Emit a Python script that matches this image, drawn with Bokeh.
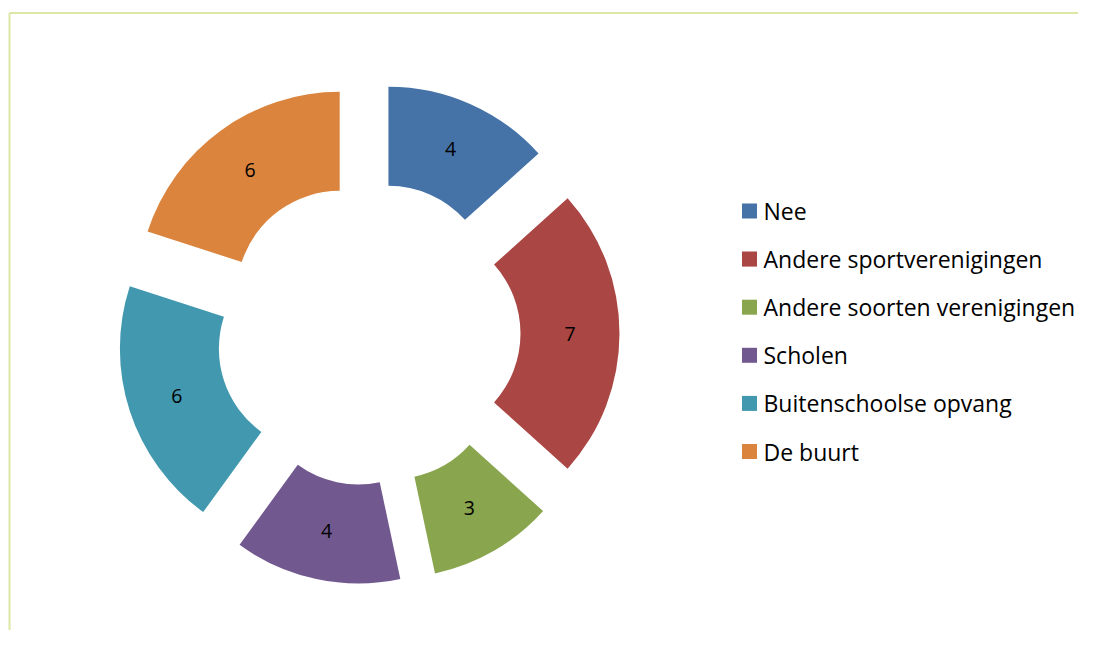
import numpy as np
from bokeh.plotting import figure
from bokeh.models import ColumnDataSource
from bokeh.core.properties import value
from bokeh.embed import file_html
from bokeh.resources import INLINE

categories = ["Nee", "Andere sportverenigingen", "Andere soorten verenigingen",
              "Scholen", "Buitenschoolse opvang", "De buurt"]
values = [4, 7, 3, 4, 6, 6]
colors = ["#4572A7", "#AA4643", "#89A54E", "#71588F", "#4198AF", "#DB843D"]

W, H = 1078, 630
p = figure(width=W, height=H, x_range=(0, W), y_range=(0, H),
           output_backend="svg", toolbar_location=None, min_border=0)
p.axis.visible = False
p.grid.visible = False
p.outline_line_color = None
p.background_fill_color = "white"

# frame (top and left lines)
p.line([9, W], [617.5, 617.5], line_color="#DCE6A6", line_width=2)
p.line([9, 9], [0, 617.5], line_color="#DCE6A6", line_width=2)

cx, cy = 368, 297
R_out, R_in, explode = 202, 103, 49

vals = np.array(values, dtype=float)
cum = np.concatenate([[0], np.cumsum(vals)]) / vals.sum() * 2 * np.pi
t1, t2 = cum[:-1], cum[1:]
tm = (t1 + t2) / 2
xs = cx + explode * np.sin(tm)
ys = cy + explode * np.cos(tm)
src = ColumnDataSource(dict(x=xs, y=ys, start=np.pi / 2 - t2, end=np.pi / 2 - t1,
                            color=colors, cat=categories,
                            lx=xs + (R_out + R_in) / 2 * np.sin(tm),
                            ly=ys + (R_out + R_in) / 2 * np.cos(tm),
                            lab=[str(v) for v in values]))
p.annular_wedge(x="x", y="y", inner_radius=R_in, outer_radius=R_out,
                start_angle="start", end_angle="end", fill_color="color",
                line_color=None, source=src)
p.text(x="lx", y="ly", text="lab", source=src, text_align="center",
       text_baseline="middle", text_font=value("Open Sans"), text_font_size="19.5px",
       text_color="black")

# legend
n = len(categories)
leg_y = 630 - (210.5 + 48.1 * np.arange(n))
leg = ColumnDataSource(dict(x=np.full(n, 749.0), y=leg_y, tx=np.full(n, 763.0),
                            color=colors, cat=categories))
p.rect(x="x", y="y", width=15, height=15, fill_color="color", line_color=None, source=leg)
p.text(x="tx", y="y", text="cat", source=leg, text_baseline="middle",
       text_font=value("Open Sans"), text_font_size="23px", text_color="black")

open("out.html", "w").write(file_html(p, INLINE))
